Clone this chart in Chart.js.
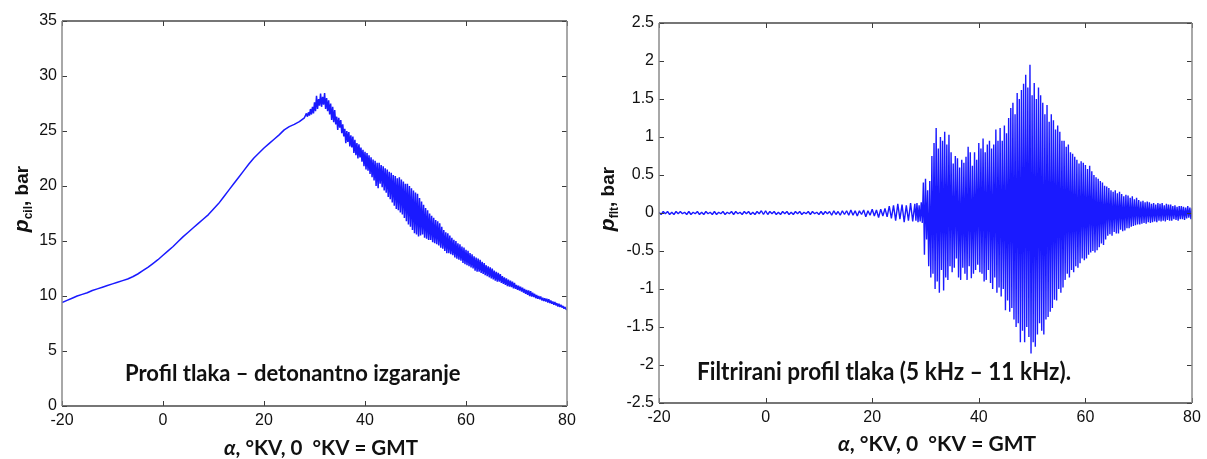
<!DOCTYPE html>
<html>
<head>
<meta charset="utf-8">
<script src="https://cdn.jsdelivr.net/npm/chart.js@4.4.0/dist/chart.umd.min.js"></script>
<style>
  html, body { margin: 0; padding: 0; background: #fff; }
  body { width: 1207px; height: 459px; position: relative; overflow: hidden; }
  .panel { position: absolute; top: 0; height: 459px; }
  #leftBox { left: 0; width: 590px; }
  #rightBox { left: 590px; width: 617px; }
</style>
</head>
<body>
<div class="panel" id="leftBox"><canvas id="cilChart" width="590" height="459"></canvas></div>
<div class="panel" id="rightBox"><canvas id="fltChart" width="617" height="459"></canvas></div>
<script>
// axis ticks
var alphaTicks = [-20, 0, 20, 40, 60, 80];
var cilTicks = [0, 5, 10, 15, 20, 25, 30, 35];
var fltTicks = [-2.5, -2, -1.5, -1, -0.5, 0, 0.5, 1, 1.5, 2, 2.5];

// cylinder pressure, smooth part: one reading per degree, -20 .. 28 °KV
var cilSmoothStart = -20, cilSmoothStep = 1;
var cilSmooth = [
  9.4, 9.6, 9.8, 10.0, 10.15, 10.3, 10.5, 10.65, 10.8, 10.95,
  11.1, 11.25, 11.4, 11.55, 11.75, 12.0, 12.3, 12.6, 12.95, 13.3,
  13.7, 14.1, 14.5, 14.95, 15.4, 15.8, 16.2, 16.6, 17.0, 17.4,
  17.9, 18.4, 19.0, 19.6, 20.2, 20.8, 21.4, 22.0, 22.55, 23.0,
  23.45, 23.85, 24.25, 24.65, 25.1, 25.4, 25.6, 25.85, 26.2
];

// cylinder pressure, knocking part: peaks / troughs every 0.2 °KV, 28.4 .. 80
var cilKnockStart = 28.4, cilKnockStep = 0.2;
var cilKnock = [
  26.6, 26.3, 26.7, 26.4, 27.0, 26.5, 27.2, 26.6, 27.6, 26.8,
  28.2, 27.0, 27.9, 27.3, 28.4, 27.2, 28.1, 27.4, 28.45, 27.0,
  28.0, 26.8, 27.8, 26.5, 27.5, 26.0, 27.2, 25.8, 26.9, 25.6,
  26.3, 25.1, 26.2, 25.3, 26.0, 24.8, 25.6, 24.5, 25.2, 23.9,
  25.0, 24.0, 24.9, 23.6, 24.6, 23.5, 24.5, 23.0, 24.2, 22.8,
  23.9, 22.5, 23.8, 22.6, 23.5, 22.2, 23.3, 21.8, 23.1, 21.5,
  23.0, 21.4, 22.8, 21.1, 22.6, 20.8, 22.4, 20.5, 22.3, 20.0,
  22.1, 19.8, 22.1, 20.2, 21.9, 19.9, 21.8, 19.6, 21.6, 19.4,
  21.5, 19.0, 21.3, 18.8, 21.2, 18.5, 21.0, 18.2, 20.9, 17.9,
  20.7, 17.8, 20.8, 17.6, 20.6, 17.4, 20.4, 17.1, 20.2, 16.8,
  20.2, 16.5, 20.0, 16.3, 19.8, 16.0, 19.6, 15.7, 19.4, 15.6,
  19.3, 15.4, 18.9, 15.5, 18.6, 15.6, 18.3, 15.3, 18.0, 15.2,
  17.8, 15.1, 17.5, 15.1, 17.3, 14.9, 17.1, 14.8, 16.9, 14.7,
  16.8, 14.6, 16.6, 14.4, 16.3, 14.3, 16.0, 14.1, 15.8, 13.9,
  15.7, 13.9, 15.5, 13.8, 15.3, 13.7, 15.1, 13.5, 15.0, 13.4,
  14.8, 13.3, 14.7, 13.2, 14.5, 13.0, 14.4, 12.9, 14.2, 12.8,
  14.1, 12.7, 13.9, 12.6, 13.8, 12.5, 13.6, 12.3, 13.5, 12.2,
  13.4, 12.2, 13.3, 12.1, 13.1, 12.0, 13.0, 11.9, 12.8, 11.8,
  12.7, 11.7, 12.6, 11.6, 12.5, 11.5, 12.3, 11.4, 12.2, 11.3,
  12.1, 11.3, 12.0, 11.2, 11.8, 11.1, 11.7, 11.0, 11.6, 10.9,
  11.5, 10.85, 11.4, 10.8, 11.3, 10.7, 11.2, 10.65, 11.0, 10.55,
  10.95, 10.5, 10.85, 10.4, 10.75, 10.3, 10.65, 10.2, 10.55, 10.1,
  10.5, 10.0, 10.45, 9.95, 10.3, 9.9, 10.2, 9.8, 10.1, 9.75,
  10.0, 9.7, 9.95, 9.6, 9.85, 9.55, 9.8, 9.5, 9.75, 9.4,
  9.7, 9.35, 9.6, 9.3, 9.5, 9.2, 9.45, 9.15, 9.35, 9.05,
  9.3, 9.0, 9.2, 8.95, 9.1, 8.85, 9.0, 8.8, 8.75
];

// filtered pressure (5 - 11 kHz), quiet part: every 0.4 °KV, -20 .. 27.6
var fltQuietStart = -20, fltQuietStep = 0.4;
var fltQuiet = [
  0.01, -0.02, 0.02, -0.01, 0.02, -0.02, 0.01, -0.02, 0.02, -0.01,
  0.02, -0.01, 0.01, -0.02, 0.02, -0.02, 0.01, -0.01, 0.02, -0.02,
  0.01, -0.02, 0.02, -0.01, 0.01, -0.02, 0.02, -0.02, 0.01, -0.01,
  0.02, -0.02, 0.01, -0.01, 0.02, -0.02, 0.02, -0.01, 0.01, -0.02,
  0.02, -0.01, 0.02, -0.02, 0.01, -0.02, 0.02, -0.01, 0.03, -0.02,
  0.03, -0.02, 0.02, -0.01, 0.02, -0.02, 0.01, -0.02, 0.02, -0.01,
  0.02, -0.02, 0.01, -0.02, 0.02, -0.01, 0.02, -0.02, 0.01, -0.01,
  0.02, -0.02, 0.02, -0.01, 0.01, -0.02, 0.02, -0.02, 0.02, -0.01,
  0.02, -0.03, 0.03, -0.02, 0.02, -0.03, 0.03, -0.02, 0.03, -0.03,
  0.04, -0.03, 0.03, -0.04, 0.03, -0.02, 0.04, -0.05, 0.03, -0.03,
  0.05, -0.04, 0.04, -0.06, 0.05, -0.04, 0.06, -0.05, 0.09, -0.07,
  0.10, -0.10, 0.12, -0.08, 0.11, -0.12, 0.10, -0.10, 0.13, -0.11
];

// filtered pressure, knocking part: every 0.2 °KV, 28 .. 80
var fltKnockStart = 28, fltKnockStep = 0.2;
var fltKnock = [
  0.12, -0.10, 0.13, -0.12, 0.10, -0.11, 0.14, -0.13, 0.40, -0.55,
  0.45, -0.35, 0.30, -0.70, 0.42, -0.85, 0.75, -0.80, 0.92, -1.00,
  1.12, -0.90, 0.85, -1.05, 1.00, -0.75, 0.95, -1.02, 1.07, -0.85,
  0.90, -0.88, 1.03, -0.70, 0.80, -0.78, 0.65, -0.72, 0.75, -0.60,
  0.72, -0.85, 0.60, -0.88, 0.70, -0.72, 0.66, -0.80, 0.74, -0.88,
  0.87, -0.70, 0.80, -0.86, 0.62, -0.80, 0.80, -0.75, 0.70, -0.68,
  0.92, -0.78, 0.85, -0.80, 0.98, -0.90, 0.80, -0.88, 0.90, -0.75,
  0.95, -0.92, 0.85, -1.00, 0.90, -0.85, 1.10, -1.05, 0.95, -0.98,
  1.12, -1.10, 0.95, -1.00, 1.15, -1.28, 1.05, -1.15, 1.25, -1.30,
  1.38, -1.25, 1.45, -1.40, 1.30, -1.50, 1.58, -1.45, 1.50, -1.70,
  1.62, -1.55, 1.70, -1.70, 1.82, -1.50, 1.65, -1.63, 1.95, -1.85,
  1.55, -1.70, 1.71, -1.76, 1.50, -1.60, 1.65, -1.45, 1.55, -1.55,
  1.45, -1.60, 1.30, -1.40, 1.42, -1.37, 1.20, -1.30, 1.30, -1.25,
  1.22, -1.14, 1.10, -1.15, 1.15, -1.00, 1.07, -1.05, 0.95, -0.98,
  0.95, -0.88, 0.87, -0.80, 0.90, -0.85, 0.80, -0.75, 0.78, -0.78,
  0.74, -0.70, 0.70, -0.72, 0.65, -0.66, 0.68, -0.60, 0.66, -0.62,
  0.63, -0.60, 0.58, -0.55, 0.62, -0.52, 0.55, -0.50, 0.50, -0.52,
  0.47, -0.49, 0.45, -0.45, 0.42, -0.40, 0.40, -0.42, 0.36, -0.35,
  0.35, -0.30, 0.33, -0.28, 0.30, -0.30, 0.28, -0.25, 0.30, -0.27,
  0.26, -0.27, 0.28, -0.22, 0.25, -0.24, 0.22, -0.23, 0.24, -0.20,
  0.23, -0.20, 0.20, -0.18, 0.22, -0.17, 0.18, -0.16, 0.20, -0.15,
  0.17, -0.15, 0.15, -0.14, 0.16, -0.13, 0.14, -0.14, 0.15, -0.12,
  0.14, -0.13, 0.12, -0.12, 0.13, -0.11, 0.11, -0.12, 0.13, -0.10,
  0.12, -0.11, 0.13, -0.10, 0.10, -0.11, 0.12, -0.09, 0.11, -0.10,
  0.11, -0.10, 0.09, -0.08, 0.10, -0.09, 0.08, -0.10, 0.09, -0.08,
  0.09, -0.08, 0.08, -0.09, 0.07, -0.07, 0.09, -0.06, 0.07, -0.08,
  0.06
];

function toPoints(start, step, values) {
  return values.map(function(v, i) {
    return { x: Math.round((start + i * step) * 100) / 100, y: v };
  });
}

// draws text pieces one after the other, squeezed to maxW if needed
function drawRun(ctx, parts, x, y, align, maxW) {
  var total = 0;
  parts.forEach(function(p) { ctx.font = p.font; p.w = ctx.measureText(p.text).width; total += p.w; });
  var sx = (maxW && total > maxW) ? maxW / total : 1;
  ctx.save();
  ctx.translate(x, y);
  ctx.scale(sx, 1);
  var cx = align === 'center' ? -total / 2 : 0;
  parts.forEach(function(p) {
    ctx.font = p.font;
    ctx.fillText(p.text, cx, p.dy || 0);
    cx += p.w;
  });
  ctx.restore();
}

var matlabFrame = {
  id: 'matlabFrame',
  afterDraw: function(chart, args, o) {
    var ctx = chart.ctx, a = chart.chartArea;
    var xs = chart.scales.x, ys = chart.scales.y;
    ctx.save();
    // inward ticks on all four sides
    ctx.strokeStyle = '#3a3a3a';
    ctx.lineWidth = 1;
    ctx.beginPath();
    xs.ticks.forEach(function(t) {
      var px = Math.round(xs.getPixelForValue(t.value)) + 0.5;
      ctx.moveTo(px, a.bottom); ctx.lineTo(px, a.bottom - 5);
      ctx.moveTo(px, a.top); ctx.lineTo(px, a.top + 5);
    });
    ys.ticks.forEach(function(t) {
      var py = Math.round(ys.getPixelForValue(t.value)) + 0.5;
      ctx.moveTo(a.left, py); ctx.lineTo(a.left + 5, py);
      ctx.moveTo(a.right, py); ctx.lineTo(a.right - 5, py);
    });
    ctx.stroke();
    // box
    ctx.strokeStyle = '#4a4a4a';
    ctx.lineWidth = 1.5;
    ctx.beginPath();
    ctx.moveTo(a.left, a.top); ctx.lineTo(a.right, a.top);
    ctx.moveTo(a.left, a.bottom); ctx.lineTo(a.right, a.bottom);
    ctx.stroke();
    ctx.strokeStyle = '#8c8c8c';
    ctx.beginPath();
    ctx.moveTo(a.left, a.top); ctx.lineTo(a.left, a.bottom);
    ctx.moveTo(a.right, a.top); ctx.lineTo(a.right, a.bottom);
    ctx.stroke();

    ctx.fillStyle = '#111';
    ctx.textBaseline = 'alphabetic';
    // x title
    drawRun(ctx, [
      { text: 'α', font: 'italic bold 21px Lato' },
      { text: ', °KV, 0  °KV = GMT', font: 'bold 21px Lato' }
    ], o.xTitleX, o.xTitleY, 'center', o.xTitleW);
    // y title, rotated
    ctx.save();
    ctx.translate(o.yTitleX, o.yTitleY);
    ctx.rotate(-Math.PI / 2);
    drawRun(ctx, [
      { text: 'p', font: 'italic bold 21px "Liberation Sans"' },
      { text: o.sub, font: 'bold 12px "Liberation Sans"', dy: 4 },
      { text: ', bar', font: 'bold 19px "Liberation Sans"' }
    ], 0, 0, 'center');
    ctx.restore();
    // note inside the plot
    drawRun(ctx, [{ text: o.note, font: 'bold ' + o.noteSize + 'px Lato' }], o.noteX, o.noteY, 'left', o.noteW);
    ctx.restore();
  }
};

function makeOptions(yTicks, frame, xHeight, padRight) {
  return {
    responsive: false,
    animation: false,
    devicePixelRatio: 1,
    layout: { padding: { left: 0, right: padRight, top: frame.top, bottom: 0 } },
    elements: { point: { radius: 0 }, line: { tension: 0, borderJoinStyle: 'bevel' } },
    plugins: {
      legend: { display: false },
      tooltip: { enabled: false },
      matlabFrame: frame
    },
    scales: {
      x: {
        type: 'linear',
        min: alphaTicks[0],
        max: alphaTicks[alphaTicks.length - 1],
        afterBuildTicks: function(s) { s.ticks = alphaTicks.map(function(v) { return { value: v }; }); },
        afterFit: function(s) { s.height = xHeight; },
        grid: { display: false, drawTicks: false },
        border: { display: false },
        ticks: {
          padding: 5, color: '#111', maxRotation: 0,
          font: { family: '"Liberation Sans"', size: 16 },
          callback: function(v) { return String(v); }
        }
      },
      y: {
        min: yTicks[0],
        max: yTicks[yTicks.length - 1],
        afterBuildTicks: function(s) { s.ticks = yTicks.map(function(v) { return { value: v }; }); },
        afterFit: function(s) { s.width = frame.left; },
        grid: { display: false, drawTicks: false },
        border: { display: false },
        ticks: {
          padding: 5, color: '#111',
          font: { family: '"Liberation Sans"', size: 16 },
          callback: function(v) { return String(Math.round(v * 10) / 10); }
        }
      }
    }
  };
}

var cilData = toPoints(cilSmoothStart, cilSmoothStep, cilSmooth)
  .concat(toPoints(cilKnockStart, cilKnockStep, cilKnock));
var fltData = toPoints(fltQuietStart, fltQuietStep, fltQuiet)
  .concat(toPoints(fltKnockStart, fltKnockStep, fltKnock));

new Chart(document.getElementById('cilChart'), {
  type: 'line',
  data: {
    datasets: [{
      data: cilData,
      borderColor: '#1a1aff',
      borderWidth: 1.5
    }]
  },
  options: makeOptions(cilTicks, {
    left: 62, top: 21,
    sub: 'cil',
    xTitleX: 321, xTitleY: 455, xTitleW: 194,
    yTitleX: 28, yTitleY: 199,
    note: 'Profil tlaka – detonantno izgaranje',
    noteX: 125, noteY: 381, noteW: 336, noteSize: 22
  }, 53, 23),
  plugins: [matlabFrame]
});

new Chart(document.getElementById('fltChart'), {
  type: 'line',
  data: {
    datasets: [{
      data: fltData,
      borderColor: '#1a1aff',
      borderWidth: 1.4
    }]
  },
  options: makeOptions(fltTicks, {
    left: 69, top: 23,
    sub: 'flt',
    xTitleX: 347, xTitleY: 451, xTitleW: 199,
    yTitleX: 24, yTitleY: 199,
    note: 'Filtrirani profil tlaka (5 kHz – 11 kHz).',
    noteX: 107, noteY: 380, noteW: 374, noteSize: 24
  }, 56, 15),
  plugins: [matlabFrame]
});
</script>
</body>
</html>
